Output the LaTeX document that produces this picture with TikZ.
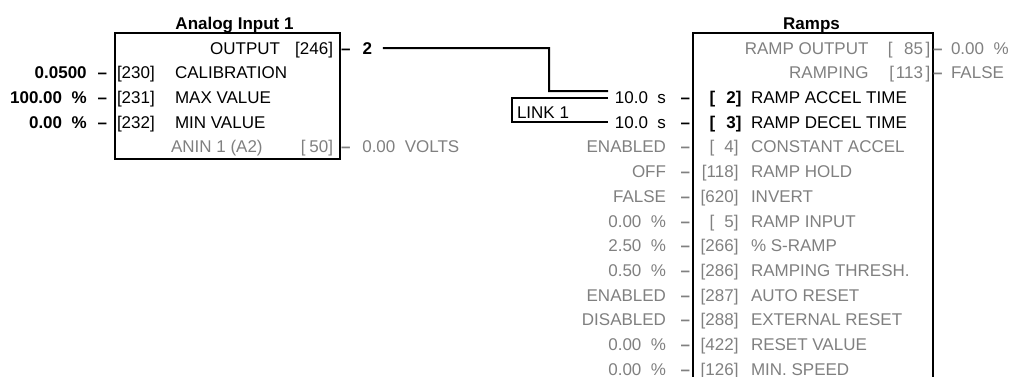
\documentclass[tikz,border=0pt]{standalone}
\usepackage{fontspec}
\setmainfont{Liberation Sans}
\definecolor{pgray}{gray}{0.5}
\tikzset{
  every node/.style={inner sep=0pt, outer sep=0pt, font=\fontsize{17}{20}\selectfont},
  blk/.style={draw=black, line width=2pt, rectangle},
  lw/.style={anchor=base west},
  le/.style={anchor=base east},
  bd/.style={font=\fontsize{17}{20}\selectfont\bfseries},
  gr/.style={text=pgray},
  conn/.style={draw=black, line width=2pt},
}
\begin{document}
\begin{tikzpicture}[x=1pt,y=-1pt]
\useasboundingbox (0,0) rectangle (1018,376);
\clip (0,0) rectangle (1018,376);
% ---------------- Analog Input 1 ----------------
\node[bd, anchor=base] (aititle) at (234.5,29.1) {Analog Input 1};
\node[blk, minimum width=225pt, minimum height=126pt, anchor=north west] (aibox) at (115,33) {};
% output row
\node[le] (aoname) at (280,54.1) {OUTPUT};
\node[le] (aopar) at (333,54.1) {[246]};
\node[lw,bd] (aodash) at (341,54.1) {–};
\node[lw,bd] (ao2) at (362.5,54.1) {2};
% inputs
\node[le,bd] (aiv1) at (86.7,78.8) {0.0500};
\node[lw,bd] (aid1) at (97.5,78.8) {–};
\node[lw] (aip1) at (117,78.8) {[230]};
\node[lw] (ail1) at (175,78.8) {CALIBRATION};
\node[le,bd] (aiv2) at (86.7,103.5) {100.00\ \ \%};
\node[lw,bd] (aid2) at (97.5,103.5) {–};
\node[lw] (aip2) at (117,103.5) {[231]};
\node[lw] (ail2) at (175,103.5) {MAX VALUE};
\node[le,bd] (aiv3) at (86.7,128.2) {0.00\ \ \%};
\node[lw,bd] (aid3) at (97.5,128.2) {–};
\node[lw] (aip3) at (117,128.2) {[232]};
\node[lw] (ail3) at (175,128.2) {MIN VALUE};
% anin output
\node[lw,gr] (anname) at (171,152.9) {ANIN 1 (A2)};
\node[le,gr] (anpar) at (333,152.9) {[\hspace{3.8pt}50]};
\node[lw,gr,bd] (andash) at (341,152.9) {–};
\node[lw,gr] (anval) at (362.3,152.9) {0.00\ \ VOLTS};
% ---------------- Ramps ----------------
\node[bd, anchor=base] (rtitle) at (811.5,29.1) {Ramps};
\node[blk, minimum width=240pt, minimum height=380pt, anchor=north west] (rbox) at (692.5,33) {};
% outputs
\node[le,gr] (ro0) at (868.5,54.1) {RAMP OUTPUT};
\node[le,gr] (rop0) at (930.3,54.1) {[\hspace{11.5pt}85\hspace{2.5pt}]};
\node[lw,gr,bd] (rod0) at (933,54.1) {–};
\node[lw,gr] (rov0) at (951,54.1) {0.00\ \ \%};
\node[le,gr] (ro1) at (868.5,78.8) {RAMPING};
\node[le,gr] (rop1) at (930.3,78.8) {[\hspace{2pt}113\hspace{2.5pt}]};
\node[lw,gr,bd] (rod1) at (933,78.8) {–};
\node[lw,gr] (rov1) at (951,78.8) {FALSE};
% linked inputs
\node[le] (rv2) at (666,103.5) {10.0\ \ s};
\node[lw,bd] (rd2) at (680.5,103.5) {–};
\node[le,bd] (rp2) at (741.5,103.5) {[\hspace{11pt}2]};
\node[lw] (rl2) at (751,103.5) {RAMP ACCEL TIME};
\node[le] (rv3) at (666,128.2) {10.0\ \ s};
\node[lw,bd] (rd3) at (680.5,128.2) {–};
\node[le,bd] (rp3) at (741.5,128.2) {[\hspace{11pt}3]};
\node[lw] (rl3) at (751,128.2) {RAMP DECEL TIME};
% other inputs
\foreach \k/\v/\p/\l in {
  4/{ENABLED}/{[\hspace{10pt}4]}/{CONSTANT ACCEL},
  5/{OFF}/{[118]}/{RAMP HOLD},
  6/{FALSE}/{[620]}/{INVERT},
  7/{0.00\ \ \%}/{[\hspace{10pt}5]}/{RAMP INPUT},
  8/{2.50\ \ \%}/{[266]}/{\% S-RAMP},
  9/{0.50\ \ \%}/{[286]}/{RAMPING THRESH.},
  10/{ENABLED}/{[287]}/{AUTO RESET},
  11/{DISABLED}/{[288]}/{EXTERNAL RESET},
  12/{0.00\ \ \%}/{[422]}/{RESET VALUE},
  13/{0.00\ \ \%}/{[126]}/{MIN. SPEED}}
{
  \pgfmathsetmacro\yy{48+24.7*\k+6.1}
  \node[le,gr] (rv\k) at (666,\yy) {\v};
  \node[lw,gr,bd] (rd\k) at (680.5,\yy) {–};
  \node[le,gr] (rp\k) at (738.5,\yy) {\p};
  \node[lw,gr] (rl\k) at (751,\yy) {\l};
}
% ---------------- links ----------------
\coordinate (bendA) at (549,48);
\coordinate (bendB) at (549,91);
\coordinate (linkend) at (608,91);
\draw[conn] ([xshift=11pt]ao2.east) -- (bendA) -- (bendB) -- (linkend);
\coordinate (lkA) at (608,98.3);
\coordinate (lkB) at (511.5,98.3);
\coordinate (lkC) at (511.5,121.7);
\coordinate (lkD) at (608,121.7);
\draw[conn] (lkA) -- (lkB) -- (lkC) -- (lkD);
\node[lw] (linklabel) at (517,118.1) {LINK 1};
\end{tikzpicture}
\end{document}
